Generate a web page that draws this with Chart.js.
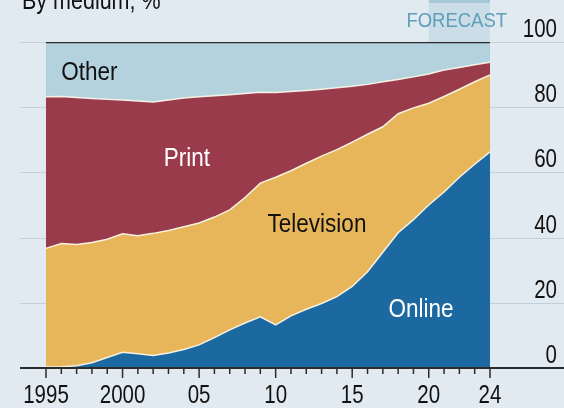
<!DOCTYPE html>
<html>
<head>
<meta charset="utf-8">
<script src="https://cdn.jsdelivr.net/npm/chart.js@4.4.0/dist/chart.umd.min.js"></script>
<style>
  html, body { margin: 0; padding: 0; background: #e0eaf0; }
  #wrap { width: 564px; height: 408px; }
</style>
</head>
<body>
<div id="wrap"><canvas id="myChart" width="564" height="408"></canvas></div>
<script>
// share of ad spending by medium, %
const years = [1995, 1996, 1997, 1998, 1999, 2000, 2001, 2002, 2003, 2004,
  2005, 2006, 2007, 2008, 2009, 2010, 2011, 2012, 2013, 2014,
  2015, 2016, 2017, 2018, 2019, 2020, 2021, 2022, 2023, 2024];
const online = [0.3, 0.4, 0.7, 1.6, 3.2, 4.8, 4.4, 3.8, 4.6, 5.7,
  7.1, 9.3, 11.7, 13.8, 15.7, 13.2, 16.0, 18.0, 19.8, 21.9,
  25.0, 29.5, 35.5, 41.5, 45.5, 50.0, 54.0, 58.5, 62.5, 66.3];
const television = [36.4, 37.8, 37.2, 36.9, 36.3, 36.4, 36.2, 37.5, 37.6, 37.6,
  37.4, 37.0, 36.8, 38.5, 41.0, 45.3, 44.5, 44.8, 45.2, 45.1,
  44.3, 42.2, 38.5, 36.5, 34.3, 31.2, 29.3, 27.0, 25.3, 23.6];
const print = [46.5, 45.1, 45.1, 44.2, 42.9, 41.0, 41.3, 40.3, 40.0, 39.5,
  38.7, 37.2, 35.3, 31.9, 27.9, 26.0, 24.3, 22.3, 20.5, 19.0,
  17.1, 15.3, 13.8, 10.5, 9.5, 9.0, 8.1, 6.7, 5.2, 3.9];
const other = [16.8, 16.7, 17.0, 17.3, 17.6, 17.8, 18.1, 18.4, 17.8, 17.2,
  16.8, 16.5, 16.2, 15.8, 15.4, 15.5, 15.2, 14.9, 14.5, 14.0,
  13.6, 13.0, 12.2, 11.5, 10.7, 9.8, 8.6, 7.8, 7.0, 6.2];

const tickYears = [1995, 2000, 2005, 2010, 2015, 2020, 2024];
const tickText = ['1995', '2000', '05', '10', '15', '20', '24'];
const yTicks = [0, 20, 40, 60, 80, 100];
const forecastFrom = 2020;

const FONT = "'Liberation Sans', Arial, sans-serif";
const sep = 'rgba(250,246,232,0.95)';

// the original face is narrow, so squeeze text horizontally
function drawText(ctx, text, px, py, align, size, color, squeeze) {
  ctx.save();
  ctx.translate(px, py);
  ctx.scale(squeeze, 1);
  ctx.font = size + 'px ' + FONT;
  ctx.fillStyle = color;
  ctx.textAlign = align;
  ctx.textBaseline = 'alphabetic';
  ctx.fillText(text, 0, 0);
  ctx.restore();
}

const decor = {
  id: 'decor',
  beforeDatasetsDraw(chart) {
    const { ctx, scales: { x, y }, chartArea } = chart;
    ctx.save();
    // forecast band above the plot
    const fx = x.getPixelForValue(years.indexOf(forecastFrom));
    ctx.fillStyle = '#cbdee8';
    ctx.fillRect(fx, 0, chartArea.right - fx, chartArea.top);
    ctx.fillStyle = '#a7c8d9';
    ctx.fillRect(fx, 0, chartArea.right - fx, 3);
    // gridlines run past the plot on both sides
    ctx.strokeStyle = '#c3d0d8';
    ctx.lineWidth = 1;
    yTicks.forEach(v => {
      if (v === 0) return;
      const py = Math.round(y.getPixelForValue(v)) + 0.5;
      ctx.beginPath();
      ctx.moveTo(20, py);
      ctx.lineTo(chart.width, py);
      ctx.stroke();
    });
    ctx.restore();
    // title (cut off at the top) and forecast tag
    drawText(ctx, 'By medium, %', 22, 9, 'left', 25, '#111', 0.86);
    drawText(ctx, 'FORECAST', chartArea.right + 17, 27, 'right', 21, '#5f9fba', 0.88);
  },
  afterDatasetsDraw(chart) {
    const { ctx, scales: { x, y }, width } = chart;
    ctx.save();
    // zero line and year ticks
    const py = y.getPixelForValue(0);
    ctx.strokeStyle = '#2b2b2b';
    ctx.lineWidth = 2;
    ctx.beginPath();
    ctx.moveTo(20, py);
    ctx.lineTo(width, py);
    ctx.stroke();
    ctx.lineWidth = 1.5;
    years.forEach((yr, i) => {
      const px = x.getPixelForValue(i);
      const len = tickYears.includes(yr) ? 10 : 6;
      ctx.beginPath();
      ctx.moveTo(px, py);
      ctx.lineTo(px, py + len);
      ctx.stroke();
    });
    ctx.restore();

    // axis labels
    tickYears.forEach((yr, k) => {
      drawText(ctx, tickText[k], x.getPixelForValue(years.indexOf(yr)), py + 35, 'center', 25, '#111', 0.82);
    });
    yTicks.forEach(v => {
      drawText(ctx, String(v), width - 7, y.getPixelForValue(v) - 5, 'right', 25, '#111', 0.82);
    });

    // series labels
    const labels = [
      { t: 'Other', i: 1, v: 88.3, c: '#111', a: 'left' },
      { t: 'Print', i: 9.2, v: 62, c: '#fff', a: 'center' },
      { t: 'Television', i: 17.7, v: 41.7, c: '#111', a: 'center' },
      { t: 'Online', i: 24.5, v: 15.6, c: '#fff', a: 'center' }
    ];
    labels.forEach(l => {
      drawText(ctx, l.t, x.getPixelForValue(l.i), y.getPixelForValue(l.v), l.a, 25, l.c, 0.9);
    });
  }
};

const ctx = document.getElementById('myChart').getContext('2d');
const chart = new Chart(ctx, {
  type: 'line',
  data: {
    labels: years.map(String),
    datasets: [
      { label: 'Online', data: online, backgroundColor: '#1c69a2', borderColor: sep, borderWidth: 1.5, fill: 'origin' },
      { label: 'Television', data: television, backgroundColor: '#e8b65a', borderColor: sep, borderWidth: 1.5, fill: '-1' },
      { label: 'Print', data: print, backgroundColor: '#9a3b4c', borderColor: sep, borderWidth: 1.5, fill: '-1' },
      { label: 'Other', data: other, backgroundColor: '#b4d2de', borderColor: '#2b2b2b', borderWidth: 2.5, fill: '-1' }
    ]
  },
  options: {
    responsive: false,
    animation: false,
    events: [],
    layout: { padding: { left: 46, top: 42, right: 7, bottom: 0 } },
    elements: { point: { radius: 0 }, line: { tension: 0 } },
    plugins: { legend: { display: false }, tooltip: { enabled: false } },
    scales: {
      x: {
        offset: false,
        grid: { display: false, drawTicks: false },
        border: { display: false },
        ticks: { display: false },
        afterFit: s => { s.height = 40; }
      },
      y: {
        position: 'right',
        stacked: true,
        min: 0,
        max: 100,
        grid: { display: false, drawTicks: false },
        border: { display: false },
        ticks: { display: false, stepSize: 20 },
        afterFit: s => { s.width = 67; }
      }
    }
  },
  plugins: [decor]
});
</script>
</body>
</html>
